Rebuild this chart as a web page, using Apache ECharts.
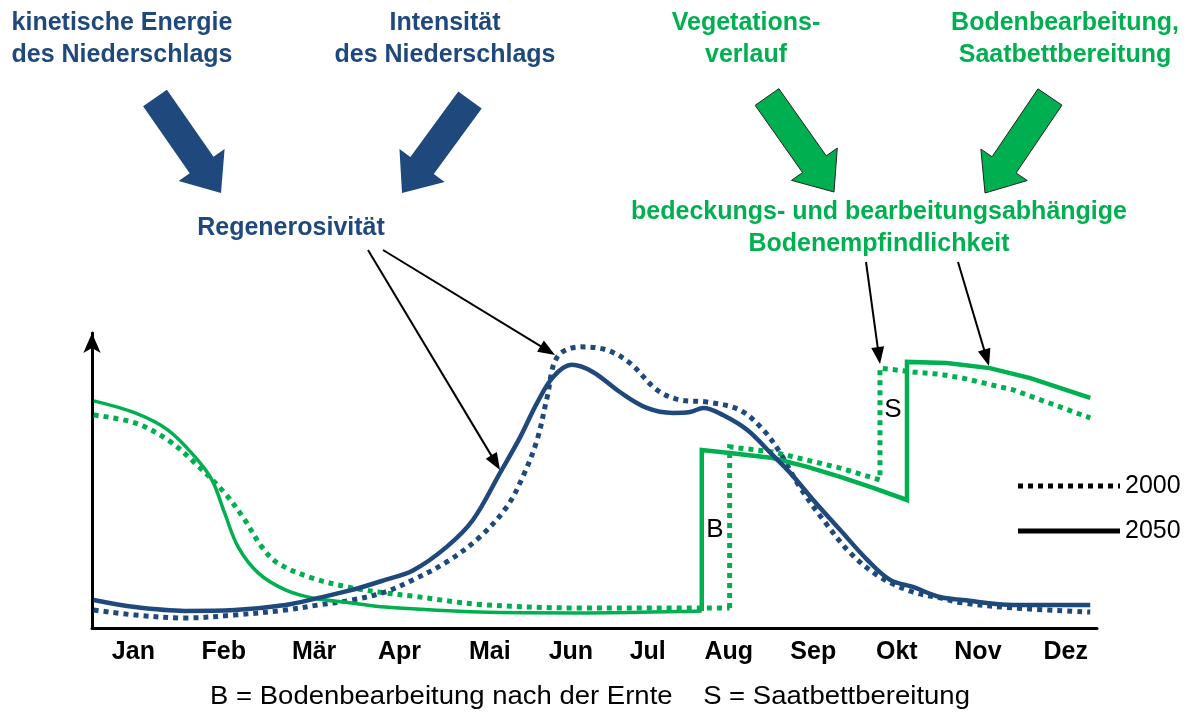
<!DOCTYPE html>
<html><head><meta charset="utf-8">
<script src="https://cdn.jsdelivr.net/npm/echarts@6/dist/echarts.min.js"></script>
<style>html,body{margin:0;padding:0;background:#fff}#c{width:1191px;height:713px}</style>
</head><body><div id="c"></div>
<script>
// ---- data (x in months from axis origin, y in relative units) ----
const months = ['Jan','Feb','Mär','Apr','Mai','Jun','Jul','Aug','Sep','Okt','Nov','Dez'];
const monthTicks = [0.49,1.56,2.63,3.64,4.71,5.67,6.58,7.54,8.54,9.53,10.49,11.53];

const regen2050 = [[0.02,9.5],[0.51,7.1],[1.10,5.8],[1.69,6.1],[2.29,7.8],[2.68,10.2],[3.08,12.9],[3.47,16.3],[3.80,19.5],[4.20,27.5],[4.51,36.6],[4.83,52.5],[5.07,64.7],[5.27,76.3],[5.46,85.1],[5.68,89.2],[5.93,86.8],[6.25,80.0],[6.57,74.6],[6.88,72.9],[7.08,73.2],[7.24,74.6],[7.47,72.2],[7.76,67.1],[8.06,58.6],[8.27,52.5],[8.54,43.4],[8.86,33.2],[9.18,23.1],[9.45,16.3],[9.72,13.9],[10.04,10.5],[10.31,9.5],[10.91,7.8],[11.82,7.8]];
const regen2000 = [[0.02,6.1],[0.51,4.4],[1.10,3.4],[1.69,4.4],[2.29,6.1],[2.68,7.8],[3.08,9.5],[3.47,12.2],[3.80,16.3],[4.20,22.4],[4.59,30.8],[4.91,41.0],[5.10,51.2],[5.27,63.7],[5.39,78.3],[5.51,91.9],[5.78,95.3],[6.10,94.2],[6.37,89.8],[6.69,80.7],[6.96,77.3],[7.28,76.6],[7.67,73.9],[7.95,67.1],[8.15,59.3],[8.38,47.8],[8.66,36.6],[8.98,25.4],[9.33,17.3],[9.72,12.2],[10.04,10.2],[10.31,8.5],[10.91,6.8],[11.82,5.4]];

const soil2050Spring = [[0.02,77.0],[0.51,72.9],[0.90,67.1],[1.22,58.0],[1.42,50.2],[1.57,39.0],[1.73,27.5],[1.97,18.6],[2.29,12.9],[2.61,10.2],[3.08,8.5],[3.47,7.1],[4.59,5.4],[5.78,5.1],[6.96,5.6],[7.22,5.8]];
const soil2050Autumn = [[7.22,5.8],[7.22,60.3],[7.55,59.3],[8.06,57.6],[8.47,54.6],[8.86,51.2],[9.25,47.5],[9.65,43.4],[9.65,90.2],[10.12,89.8],[10.63,88.1],[11.11,84.7],[11.82,78.0]];
const soil2000Spring = [[0.02,72.2],[0.51,69.5],[0.90,63.7],[1.22,55.9],[1.57,45.8],[1.81,36.6],[2.01,27.5],[2.20,22.0],[2.61,16.9],[3.08,13.6],[3.47,11.9],[3.80,10.8],[4.59,8.0],[5.78,6.8],[6.96,6.8],[7.55,6.8]];
const soil2000Autumn = [[7.55,6.8],[7.55,61.4],[8.06,59.7],[8.47,56.9],[8.86,54.2],[9.33,50.2],[9.33,88.1],[9.72,86.8],[10.04,86.0],[10.31,84.7],[10.91,80.7],[11.82,71.2]];

// ---- styles ----
const BLUE = '#1F497D', GREEN = '#00B050';
const FONT = '"Liberation Sans", Arial, sans-serif';

function blockArrow(tail, tip, sw, hw, hl, fill, stroke) {
  const dx = tip[0]-tail[0], dy = tip[1]-tail[1], L = Math.hypot(dx,dy);
  const ux = dx/L, uy = dy/L, nx = -uy, ny = ux;
  const bx = tip[0]-ux*hl, by = tip[1]-uy*hl;
  const p = (x,y,k)=>[x+nx*k, y+ny*k];
  return {type:'polygon', z:100, shape:{points:[p(tail[0],tail[1],sw/2),p(bx,by,sw/2),p(bx,by,hw/2),tip,p(bx,by,-hw/2),p(bx,by,-sw/2),p(tail[0],tail[1],-sw/2)]},
    style:{fill:fill, stroke:stroke||null, lineWidth:stroke?1:0}};
}
function thinArrow(from, to) {
  const hl = 17, hw = 13;
  const dx = to[0]-from[0], dy = to[1]-from[1], L = Math.hypot(dx,dy);
  const ux = dx/L, uy = dy/L, nx = -uy, ny = ux;
  const bx = to[0]-ux*hl, by = to[1]-uy*hl;
  return [
    {type:'line', z:100, shape:{x1:from[0],y1:from[1],x2:bx+ux*2,y2:by+uy*2}, style:{stroke:'#000', lineWidth:2}},
    {type:'polygon', z:100, shape:{points:[to,[bx+nx*hw/2,by+ny*hw/2],[bx-nx*hw/2,by-ny*hw/2]]}, style:{fill:'#000'}}
  ];
}
function txt(x, y, text, color, size, weight, extra) {
  return Object.assign({type:'text', z:100, x:x, y:y, style:{text:text, fill:color, fontSize:size, fontWeight:weight, fontFamily:FONT, align:'center', verticalAlign:'middle', lineHeight:32}}, extra||{});
}

const lineS = (name, data, color, width, dotted, smooth) => ({
  type:'line', name:name, data:data, symbol:'none', smooth:smooth?0.35:false,
  lineStyle:{color:color, width:width, type:dotted?[5,5]:'solid', cap:'butt', join:'miter'}, z:dotted?3:4, silent:true, animation:false
});

const chart = echarts.init(document.getElementById('c'));
chart.setOption({
  animation:false,
  backgroundColor:'#fff',
  grid:{left:92, right:94, top:333, bottom:85},
  xAxis:{type:'value', min:0, max:11.9,
    axisLine:{show:true, lineStyle:{color:'#000', width:3}},
    axisTick:{show:false}, splitLine:{show:false},
    axisLabel:{customValues:monthTicks, color:'#000', fontSize:25, fontWeight:'bold', fontFamily:FONT, margin:12,
      formatter:(v)=>{let bi=0,bd=1e9;monthTicks.forEach((t,i)=>{const d=Math.abs(t-v);if(d<bd){bd=d;bi=i;}});return months[bi];}}},
  yAxis:{type:'value', min:0, max:100,
    axisLine:{show:true, onZero:false, lineStyle:{color:'#000', width:3}, symbol:['none','arrow'], symbolSize:[13,20]},
    axisTick:{show:false}, axisLabel:{show:false}, splitLine:{show:false}},
  series:[
    lineS('Boden 2000 Frühjahr', soil2000Spring, GREEN, 5, true, true),
    lineS('Boden 2000 Herbst', soil2000Autumn, GREEN, 5, true, false),
    lineS('Boden 2050 Frühjahr', soil2050Spring, GREEN, 3.5, false, true),
    lineS('Boden 2050 Herbst', soil2050Autumn, GREEN, 4.5, false, false),
    lineS('Regenerosivität 2000', regen2000, BLUE, 5, true, true),
    lineS('Regenerosivität 2050', regen2050, BLUE, 4.5, false, true)
  ],
  graphic:[].concat(
    [
      txt(122, 39, 'kinetische Energie\ndes Niederschlags', BLUE, 25, 'bold'),
      txt(445, 39, 'Intensität\ndes Niederschlags', BLUE, 25, 'bold'),
      txt(291, 228, 'Regenerosivität', BLUE, 25, 'bold'),
      txt(746, 39, 'Vegetations-\nverlauf', GREEN, 25, 'bold'),
      txt(1065, 39, 'Bodenbearbeitung,\nSaatbettbereitung', GREEN, 25, 'bold'),
      txt(879, 228, 'bedeckungs- und bearbeitungsabhängige\nBodenempfindlichkeit', GREEN, 25, 'bold'),
      blockArrow([155,98],[221,193],29,56,34,BLUE),
      blockArrow([470,100],[402,193],29,56,34,BLUE),
      blockArrow([767,97],[834,192],29,56,34,GREEN,'#222'),
      blockArrow([1050,97],[985,193],29,56,34,GREEN,'#222'),
      txt(715, 530, 'B', '#000', 26, 'normal'),
      txt(893, 410, 'S', '#000', 26, 'normal'),
      {type:'line', z:100, shape:{x1:1018,y1:486,x2:1120,y2:486}, style:{stroke:'#000', lineWidth:5, lineDash:[5,5]}},
      {type:'line', z:100, shape:{x1:1018,y1:531,x2:1120,y2:531}, style:{stroke:'#000', lineWidth:5}},
      {type:'text', z:100, x:1125, y:486, style:{text:'2000', fill:'#000', fontSize:25, fontFamily:FONT, align:'left', verticalAlign:'middle'}},
      {type:'text', z:100, x:1125, y:531, style:{text:'2050', fill:'#000', fontSize:25, fontFamily:FONT, align:'left', verticalAlign:'middle'}},
      txt(590, 697, 'B = Bodenbearbeitung nach der Ernte    S = Saatbettbereitung', '#000', 25, 'normal', {scaleX:1.1, originX:0, originY:0})
    ],
    thinArrow([368,250],[500,470]),
    thinArrow([383,250],[555,355]),
    thinArrow([866,262],[880,364]),
    thinArrow([958,262],[989,366])
  )
});
</script></body></html>
